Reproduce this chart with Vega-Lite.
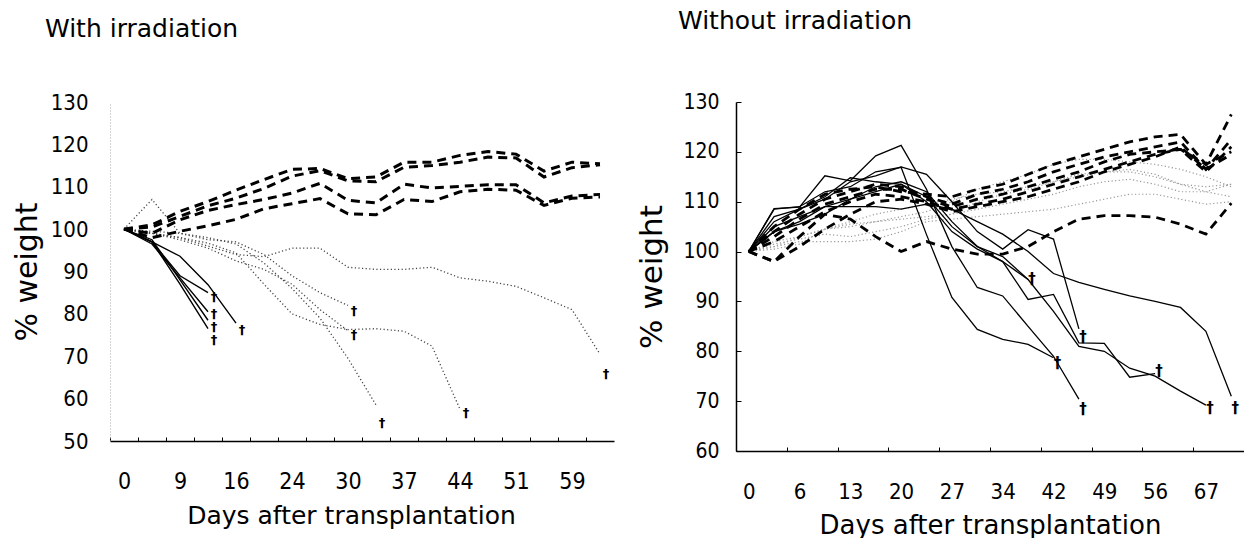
{
  "$schema": "https://vega.github.io/schema/vega-lite/v6.json",
  "padding": {"left": 12, "top": 8, "right": 0, "bottom": 0},
  "bounds": "flush",
  "spacing": 122,
  "config": {
    "view": {"stroke": null},
    "font": "DejaVu Sans",
    "title": {"fontWeight": "normal", "color": "#000", "font": "DejaVu Sans", "fontSize": 25, "anchor": "start", "frame": "group", "baseline": "alphabetic"},
    "axis": {"labelColor": "#000", "titleColor": "#000", "titleFontWeight": "normal", "grid": false, "labelFont": "DejaVu Sans Condensed", "titleFont": "DejaVu Sans"}
  },
  "datasets": {
    "L": [
      {"s":"Da","t":"dash","d":0,"w":100},{"s":"Da","t":"dash","d":5,"w":101},{"s":"Da","t":"dash","d":9,"w":104.2},{"s":"Da","t":"dash","d":13,"w":106.5},{"s":"Da","t":"dash","d":16,"w":109.2},{"s":"Da","t":"dash","d":20,"w":111.7},{"s":"Da","t":"dash","d":24,"w":114.1},{"s":"Da","t":"dash","d":27,"w":114.3},{"s":"Da","t":"dash","d":30,"w":111.9},{"s":"Da","t":"dash","d":34,"w":112.3},{"s":"Da","t":"dash","d":37,"w":115.8},{"s":"Da","t":"dash","d":41,"w":115.8},{"s":"Da","t":"dash","d":44,"w":117.4},{"s":"Da","t":"dash","d":48,"w":118.3},{"s":"Da","t":"dash","d":51,"w":117.7},{"s":"Da","t":"dash","d":55,"w":113.7},{"s":"Da","t":"dash","d":59,"w":115.8},{"s":"Da","t":"dash","d":63,"w":115.4},
      {"s":"Db","t":"dash","d":0,"w":100},{"s":"Db","t":"dash","d":5,"w":100.5},{"s":"Db","t":"dash","d":9,"w":103},{"s":"Db","t":"dash","d":13,"w":105.5},{"s":"Db","t":"dash","d":16,"w":107.3},{"s":"Db","t":"dash","d":20,"w":109.6},{"s":"Db","t":"dash","d":24,"w":112.5},{"s":"Db","t":"dash","d":27,"w":113.8},{"s":"Db","t":"dash","d":30,"w":111.4},{"s":"Db","t":"dash","d":34,"w":111.2},{"s":"Db","t":"dash","d":37,"w":114.6},{"s":"Db","t":"dash","d":41,"w":115},{"s":"Db","t":"dash","d":44,"w":115.8},{"s":"Db","t":"dash","d":48,"w":117},{"s":"Db","t":"dash","d":51,"w":116.8},{"s":"Db","t":"dash","d":55,"w":112.3},{"s":"Db","t":"dash","d":59,"w":114.5},{"s":"Db","t":"dash","d":63,"w":115.2},
      {"s":"Dc","t":"dash","d":0,"w":100},{"s":"Dc","t":"dash","d":5,"w":99},{"s":"Dc","t":"dash","d":9,"w":102.2},{"s":"Dc","t":"dash","d":13,"w":104.4},{"s":"Dc","t":"dash","d":16,"w":105.8},{"s":"Dc","t":"dash","d":20,"w":107},{"s":"Dc","t":"dash","d":24,"w":108.5},{"s":"Dc","t":"dash","d":27,"w":110.8},{"s":"Dc","t":"dash","d":30,"w":106.8},{"s":"Dc","t":"dash","d":34,"w":106.2},{"s":"Dc","t":"dash","d":37,"w":110.6},{"s":"Dc","t":"dash","d":41,"w":109.7},{"s":"Dc","t":"dash","d":44,"w":110.1},{"s":"Dc","t":"dash","d":48,"w":110.5},{"s":"Dc","t":"dash","d":51,"w":110.5},{"s":"Dc","t":"dash","d":55,"w":106.2},{"s":"Dc","t":"dash","d":59,"w":107.8},{"s":"Dc","t":"dash","d":63,"w":108.2},
      {"s":"Dd","t":"dash","d":0,"w":100},{"s":"Dd","t":"dash","d":5,"w":98},{"s":"Dd","t":"dash","d":9,"w":99.5},{"s":"Dd","t":"dash","d":13,"w":100.8},{"s":"Dd","t":"dash","d":16,"w":102.3},{"s":"Dd","t":"dash","d":20,"w":104.8},{"s":"Dd","t":"dash","d":24,"w":106},{"s":"Dd","t":"dash","d":27,"w":107.2},{"s":"Dd","t":"dash","d":30,"w":103.6},{"s":"Dd","t":"dash","d":34,"w":103.4},{"s":"Dd","t":"dash","d":37,"w":107},{"s":"Dd","t":"dash","d":41,"w":106.5},{"s":"Dd","t":"dash","d":44,"w":108.8},{"s":"Dd","t":"dash","d":48,"w":109.4},{"s":"Dd","t":"dash","d":51,"w":109.2},{"s":"Dd","t":"dash","d":55,"w":105.6},{"s":"Dd","t":"dash","d":59,"w":107.3},{"s":"Dd","t":"dash","d":63,"w":107.6},
      {"s":"Sa","t":"solid","d":0,"w":100},{"s":"Sa","t":"solid","d":5,"w":97},{"s":"Sa","t":"solid","d":9,"w":87},{"s":"Sa","t":"solid","d":13,"w":76.5},
      {"s":"Sb","t":"solid","d":0,"w":100},{"s":"Sb","t":"solid","d":5,"w":97.5},{"s":"Sb","t":"solid","d":9,"w":88},{"s":"Sb","t":"solid","d":13,"w":78.5},
      {"s":"Sc","t":"solid","d":0,"w":100},{"s":"Sc","t":"solid","d":5,"w":96.5},{"s":"Sc","t":"solid","d":9,"w":88.5},{"s":"Sc","t":"solid","d":13,"w":80.5},
      {"s":"Sd","t":"solid","d":0,"w":100},{"s":"Sd","t":"solid","d":5,"w":97},{"s":"Sd","t":"solid","d":9,"w":89},{"s":"Sd","t":"solid","d":13,"w":85},
      {"s":"Se","t":"solid","d":0,"w":100},{"s":"Se","t":"solid","d":5,"w":97},{"s":"Se","t":"solid","d":9,"w":93.6},{"s":"Se","t":"solid","d":13,"w":86.9},{"s":"Se","t":"solid","d":16,"w":77.8},
      {"s":"Pa","t":"dot","d":0,"w":100},{"s":"Pa","t":"dot","d":5,"w":99},{"s":"Pa","t":"dot","d":9,"w":98},{"s":"Pa","t":"dot","d":13,"w":96},{"s":"Pa","t":"dot","d":16,"w":94},{"s":"Pa","t":"dot","d":20,"w":93.5},{"s":"Pa","t":"dot","d":24,"w":95.5},{"s":"Pa","t":"dot","d":27,"w":95.5},{"s":"Pa","t":"dot","d":30,"w":91},{"s":"Pa","t":"dot","d":34,"w":90.5},{"s":"Pa","t":"dot","d":37,"w":90.5},{"s":"Pa","t":"dot","d":41,"w":91},{"s":"Pa","t":"dot","d":44,"w":88.5},{"s":"Pa","t":"dot","d":48,"w":87.7},{"s":"Pa","t":"dot","d":51,"w":86.5},{"s":"Pa","t":"dot","d":55,"w":83.8},{"s":"Pa","t":"dot","d":59,"w":81},{"s":"Pa","t":"dot","d":63,"w":70.5},
      {"s":"Pb","t":"dot","d":0,"w":100},{"s":"Pb","t":"dot","d":5,"w":99},{"s":"Pb","t":"dot","d":9,"w":98},{"s":"Pb","t":"dot","d":13,"w":96.7},{"s":"Pb","t":"dot","d":16,"w":94.4},{"s":"Pb","t":"dot","d":20,"w":87},{"s":"Pb","t":"dot","d":24,"w":80},{"s":"Pb","t":"dot","d":27,"w":77.5},{"s":"Pb","t":"dot","d":30,"w":76.3},{"s":"Pb","t":"dot","d":34,"w":76.5},{"s":"Pb","t":"dot","d":37,"w":75.9},{"s":"Pb","t":"dot","d":41,"w":72.4},{"s":"Pb","t":"dot","d":44,"w":57.5},
      {"s":"Pc","t":"dot","d":0,"w":100},{"s":"Pc","t":"dot","d":5,"w":99},{"s":"Pc","t":"dot","d":9,"w":97.5},{"s":"Pc","t":"dot","d":13,"w":95.5},{"s":"Pc","t":"dot","d":16,"w":92.5},{"s":"Pc","t":"dot","d":20,"w":90.5},{"s":"Pc","t":"dot","d":24,"w":87},{"s":"Pc","t":"dot","d":27,"w":81},{"s":"Pc","t":"dot","d":30,"w":76},
      {"s":"Pd","t":"dot","d":0,"w":100},{"s":"Pd","t":"dot","d":5,"w":107},{"s":"Pd","t":"dot","d":9,"w":99},{"s":"Pd","t":"dot","d":13,"w":97.5},{"s":"Pd","t":"dot","d":16,"w":97},{"s":"Pd","t":"dot","d":20,"w":94},{"s":"Pd","t":"dot","d":24,"w":89},{"s":"Pd","t":"dot","d":27,"w":85},{"s":"Pd","t":"dot","d":30,"w":82},
      {"s":"Pe","t":"dot","d":0,"w":100},{"s":"Pe","t":"dot","d":5,"w":99.5},{"s":"Pe","t":"dot","d":9,"w":99},{"s":"Pe","t":"dot","d":13,"w":98},{"s":"Pe","t":"dot","d":16,"w":96.5},{"s":"Pe","t":"dot","d":20,"w":92},{"s":"Pe","t":"dot","d":24,"w":86},{"s":"Pe","t":"dot","d":27,"w":79},{"s":"Pe","t":"dot","d":30,"w":69.5},{"s":"Pe","t":"dot","d":34,"w":58.5},
      {"s":"X1","t":"x","d":13,"w":84},{"s":"X2","t":"x","d":13,"w":79.9},{"s":"X3","t":"x","d":13,"w":76.9},{"s":"X4","t":"x","d":13,"w":73.9},{"s":"X5","t":"x","d":16,"w":76.3},{"s":"X6","t":"x","d":30,"w":80.6},{"s":"X7","t":"x","d":30,"w":75},{"s":"X8","t":"x","d":34,"w":54.3},{"s":"X9","t":"x","d":44,"w":56.5},{"s":"X10","t":"x","d":63,"w":65.8}
    ],
    "R": [
      {"s":"S1","t":"solid","d":0,"w":100},{"s":"S1","t":"solid","d":3,"w":108.5},{"s":"S1","t":"solid","d":6,"w":109},{"s":"S1","t":"solid","d":10,"w":112},{"s":"S1","t":"solid","d":13,"w":113},{"s":"S1","t":"solid","d":17,"w":116},{"s":"S1","t":"solid","d":20,"w":116.9},{"s":"S1","t":"solid","d":24,"w":103.4},{"s":"S1","t":"solid","d":27,"w":90.8},{"s":"S1","t":"solid","d":31,"w":84.4},{"s":"S1","t":"solid","d":34,"w":82.4},{"s":"S1","t":"solid","d":38,"w":81.4},{"s":"S1","t":"solid","d":42,"w":78.7},
      {"s":"S2","t":"solid","d":0,"w":100},{"s":"S2","t":"solid","d":3,"w":108.6},{"s":"S2","t":"solid","d":6,"w":108.9},{"s":"S2","t":"solid","d":10,"w":115.2},{"s":"S2","t":"solid","d":13,"w":114.2},{"s":"S2","t":"solid","d":17,"w":119.2},{"s":"S2","t":"solid","d":20,"w":121.3},{"s":"S2","t":"solid","d":24,"w":112.5},{"s":"S2","t":"solid","d":27,"w":101},{"s":"S2","t":"solid","d":31,"w":92.8},{"s":"S2","t":"solid","d":34,"w":91.1},{"s":"S2","t":"solid","d":38,"w":85},{"s":"S2","t":"solid","d":42,"w":79},{"s":"S2","t":"solid","d":45,"w":70.4},
      {"s":"S3","t":"solid","d":0,"w":100},{"s":"S3","t":"solid","d":3,"w":104},{"s":"S3","t":"solid","d":6,"w":105.5},{"s":"S3","t":"solid","d":10,"w":107.5},{"s":"S3","t":"solid","d":13,"w":110.5},{"s":"S3","t":"solid","d":17,"w":113},{"s":"S3","t":"solid","d":20,"w":114},{"s":"S3","t":"solid","d":24,"w":112},{"s":"S3","t":"solid","d":27,"w":106},{"s":"S3","t":"solid","d":31,"w":101},{"s":"S3","t":"solid","d":34,"w":98},{"s":"S3","t":"solid","d":38,"w":94.4},
      {"s":"S4","t":"solid","d":0,"w":100},{"s":"S4","t":"solid","d":3,"w":107},{"s":"S4","t":"solid","d":6,"w":108.5},{"s":"S4","t":"solid","d":10,"w":110.5},{"s":"S4","t":"solid","d":13,"w":114},{"s":"S4","t":"solid","d":17,"w":115.2},{"s":"S4","t":"solid","d":20,"w":117},{"s":"S4","t":"solid","d":24,"w":115.5},{"s":"S4","t":"solid","d":27,"w":110},{"s":"S4","t":"solid","d":31,"w":104},{"s":"S4","t":"solid","d":34,"w":100.5},{"s":"S4","t":"solid","d":38,"w":104.4},{"s":"S4","t":"solid","d":42,"w":102.5},{"s":"S4","t":"solid","d":45,"w":84.5},
      {"s":"S5","t":"solid","d":0,"w":100},{"s":"S5","t":"solid","d":3,"w":106},{"s":"S5","t":"solid","d":6,"w":108.5},{"s":"S5","t":"solid","d":10,"w":111},{"s":"S5","t":"solid","d":13,"w":114.8},{"s":"S5","t":"solid","d":17,"w":114},{"s":"S5","t":"solid","d":20,"w":113.5},{"s":"S5","t":"solid","d":24,"w":110},{"s":"S5","t":"solid","d":27,"w":104},{"s":"S5","t":"solid","d":31,"w":100.5},{"s":"S5","t":"solid","d":34,"w":98},{"s":"S5","t":"solid","d":38,"w":90.4},{"s":"S5","t":"solid","d":42,"w":91.4},{"s":"S5","t":"solid","d":45,"w":81.7},{"s":"S5","t":"solid","d":49,"w":81.6},{"s":"S5","t":"solid","d":52,"w":74.8},{"s":"S5","t":"solid","d":56,"w":75.5},
      {"s":"S6","t":"solid","d":0,"w":100},{"s":"S6","t":"solid","d":3,"w":105},{"s":"S6","t":"solid","d":6,"w":107},{"s":"S6","t":"solid","d":10,"w":109},{"s":"S6","t":"solid","d":13,"w":110.5},{"s":"S6","t":"solid","d":17,"w":112},{"s":"S6","t":"solid","d":20,"w":113.5},{"s":"S6","t":"solid","d":24,"w":111},{"s":"S6","t":"solid","d":27,"w":105},{"s":"S6","t":"solid","d":31,"w":101},{"s":"S6","t":"solid","d":34,"w":99},{"s":"S6","t":"solid","d":38,"w":94.4},{"s":"S6","t":"solid","d":42,"w":88},{"s":"S6","t":"solid","d":45,"w":81},{"s":"S6","t":"solid","d":49,"w":80},{"s":"S6","t":"solid","d":52,"w":76.6},{"s":"S6","t":"solid","d":56,"w":75},{"s":"S6","t":"solid","d":62,"w":72},{"s":"S6","t":"solid","d":67,"w":69.2},
      {"s":"S7","t":"solid","d":0,"w":100},{"s":"S7","t":"solid","d":3,"w":104},{"s":"S7","t":"solid","d":6,"w":106},{"s":"S7","t":"solid","d":10,"w":109},{"s":"S7","t":"solid","d":13,"w":109},{"s":"S7","t":"solid","d":17,"w":109},{"s":"S7","t":"solid","d":20,"w":108.5},{"s":"S7","t":"solid","d":24,"w":109.5},{"s":"S7","t":"solid","d":27,"w":108.5},{"s":"S7","t":"solid","d":31,"w":106},{"s":"S7","t":"solid","d":34,"w":103.5},{"s":"S7","t":"solid","d":38,"w":100},{"s":"S7","t":"solid","d":42,"w":95.6},{"s":"S7","t":"solid","d":45,"w":93.8},{"s":"S7","t":"solid","d":49,"w":92.4},{"s":"S7","t":"solid","d":52,"w":91.1},{"s":"S7","t":"solid","d":56,"w":90},{"s":"S7","t":"solid","d":62,"w":88.8},{"s":"S7","t":"solid","d":67,"w":84},{"s":"S7","t":"solid","d":70,"w":71},
      {"s":"U1","t":"dash","d":0,"w":100},{"s":"U1","t":"dash","d":3,"w":105},{"s":"U1","t":"dash","d":6,"w":108.5},{"s":"U1","t":"dash","d":10,"w":111.5},{"s":"U1","t":"dash","d":13,"w":112.5},{"s":"U1","t":"dash","d":17,"w":113},{"s":"U1","t":"dash","d":20,"w":112},{"s":"U1","t":"dash","d":24,"w":111.5},{"s":"U1","t":"dash","d":27,"w":111},{"s":"U1","t":"dash","d":31,"w":112.5},{"s":"U1","t":"dash","d":34,"w":113.5},{"s":"U1","t":"dash","d":38,"w":115.5},{"s":"U1","t":"dash","d":42,"w":117.5},{"s":"U1","t":"dash","d":45,"w":119},{"s":"U1","t":"dash","d":49,"w":120.5},{"s":"U1","t":"dash","d":52,"w":122},{"s":"U1","t":"dash","d":56,"w":123},{"s":"U1","t":"dash","d":62,"w":123.5},{"s":"U1","t":"dash","d":67,"w":117.5},{"s":"U1","t":"dash","d":70,"w":127.5},
      {"s":"U2","t":"dash","d":0,"w":100},{"s":"U2","t":"dash","d":3,"w":104},{"s":"U2","t":"dash","d":6,"w":107.5},{"s":"U2","t":"dash","d":10,"w":110.5},{"s":"U2","t":"dash","d":13,"w":112},{"s":"U2","t":"dash","d":17,"w":113.5},{"s":"U2","t":"dash","d":20,"w":113},{"s":"U2","t":"dash","d":24,"w":111},{"s":"U2","t":"dash","d":27,"w":109.5},{"s":"U2","t":"dash","d":31,"w":111.5},{"s":"U2","t":"dash","d":34,"w":112.5},{"s":"U2","t":"dash","d":38,"w":114},{"s":"U2","t":"dash","d":42,"w":116},{"s":"U2","t":"dash","d":45,"w":117.5},{"s":"U2","t":"dash","d":49,"w":119},{"s":"U2","t":"dash","d":52,"w":120},{"s":"U2","t":"dash","d":56,"w":121},{"s":"U2","t":"dash","d":62,"w":122},{"s":"U2","t":"dash","d":67,"w":116.5},{"s":"U2","t":"dash","d":70,"w":122.5},
      {"s":"U3","t":"dash","d":0,"w":100},{"s":"U3","t":"dash","d":3,"w":103},{"s":"U3","t":"dash","d":6,"w":106.5},{"s":"U3","t":"dash","d":10,"w":109.5},{"s":"U3","t":"dash","d":13,"w":111},{"s":"U3","t":"dash","d":17,"w":112.5},{"s":"U3","t":"dash","d":20,"w":112.5},{"s":"U3","t":"dash","d":24,"w":110.5},{"s":"U3","t":"dash","d":27,"w":109},{"s":"U3","t":"dash","d":31,"w":110.5},{"s":"U3","t":"dash","d":34,"w":111.5},{"s":"U3","t":"dash","d":38,"w":113},{"s":"U3","t":"dash","d":42,"w":114.5},{"s":"U3","t":"dash","d":45,"w":116},{"s":"U3","t":"dash","d":49,"w":118},{"s":"U3","t":"dash","d":52,"w":119.5},{"s":"U3","t":"dash","d":56,"w":120},{"s":"U3","t":"dash","d":62,"w":120.5},{"s":"U3","t":"dash","d":67,"w":116},{"s":"U3","t":"dash","d":70,"w":121},
      {"s":"U4","t":"dash","d":0,"w":100},{"s":"U4","t":"dash","d":3,"w":102},{"s":"U4","t":"dash","d":6,"w":105},{"s":"U4","t":"dash","d":10,"w":108},{"s":"U4","t":"dash","d":13,"w":110},{"s":"U4","t":"dash","d":17,"w":111.5},{"s":"U4","t":"dash","d":20,"w":111},{"s":"U4","t":"dash","d":24,"w":110},{"s":"U4","t":"dash","d":27,"w":108.5},{"s":"U4","t":"dash","d":31,"w":109.5},{"s":"U4","t":"dash","d":34,"w":110.5},{"s":"U4","t":"dash","d":38,"w":112},{"s":"U4","t":"dash","d":42,"w":113.5},{"s":"U4","t":"dash","d":45,"w":115},{"s":"U4","t":"dash","d":49,"w":116.5},{"s":"U4","t":"dash","d":52,"w":118},{"s":"U4","t":"dash","d":56,"w":119.5},{"s":"U4","t":"dash","d":62,"w":120.5},{"s":"U4","t":"dash","d":67,"w":117.5},{"s":"U4","t":"dash","d":70,"w":120},
      {"s":"U5","t":"dash","d":0,"w":100},{"s":"U5","t":"dash","d":3,"w":98},{"s":"U5","t":"dash","d":6,"w":101},{"s":"U5","t":"dash","d":10,"w":104.5},{"s":"U5","t":"dash","d":13,"w":107.5},{"s":"U5","t":"dash","d":17,"w":110},{"s":"U5","t":"dash","d":20,"w":110.5},{"s":"U5","t":"dash","d":24,"w":109.5},{"s":"U5","t":"dash","d":27,"w":108},{"s":"U5","t":"dash","d":31,"w":109},{"s":"U5","t":"dash","d":34,"w":110},{"s":"U5","t":"dash","d":38,"w":111},{"s":"U5","t":"dash","d":42,"w":112.5},{"s":"U5","t":"dash","d":45,"w":114},{"s":"U5","t":"dash","d":49,"w":116},{"s":"U5","t":"dash","d":52,"w":117.5},{"s":"U5","t":"dash","d":56,"w":119},{"s":"U5","t":"dash","d":62,"w":121},{"s":"U5","t":"dash","d":67,"w":116.5},{"s":"U5","t":"dash","d":70,"w":119.5},
      {"s":"U6","t":"dash","d":0,"w":100},{"s":"U6","t":"dash","d":3,"w":98},{"s":"U6","t":"dash","d":6,"w":103},{"s":"U6","t":"dash","d":10,"w":107.5},{"s":"U6","t":"dash","d":13,"w":106.5},{"s":"U6","t":"dash","d":17,"w":103},{"s":"U6","t":"dash","d":20,"w":100},{"s":"U6","t":"dash","d":24,"w":102},{"s":"U6","t":"dash","d":27,"w":100.5},{"s":"U6","t":"dash","d":31,"w":99.5},{"s":"U6","t":"dash","d":34,"w":99.5},{"s":"U6","t":"dash","d":38,"w":101},{"s":"U6","t":"dash","d":42,"w":104},{"s":"U6","t":"dash","d":45,"w":106.5},{"s":"U6","t":"dash","d":49,"w":107.2},{"s":"U6","t":"dash","d":52,"w":107.2},{"s":"U6","t":"dash","d":56,"w":106.9},{"s":"U6","t":"dash","d":62,"w":105.5},{"s":"U6","t":"dash","d":67,"w":103.5},{"s":"U6","t":"dash","d":70,"w":109.7},
      {"s":"P1","t":"dot","d":0,"w":100},{"s":"P1","t":"dot","d":3,"w":101.5},{"s":"P1","t":"dot","d":6,"w":102.5},{"s":"P1","t":"dot","d":10,"w":103.5},{"s":"P1","t":"dot","d":13,"w":103},{"s":"P1","t":"dot","d":17,"w":104},{"s":"P1","t":"dot","d":20,"w":105},{"s":"P1","t":"dot","d":24,"w":106.5},{"s":"P1","t":"dot","d":27,"w":107.5},{"s":"P1","t":"dot","d":31,"w":110},{"s":"P1","t":"dot","d":34,"w":111.5},{"s":"P1","t":"dot","d":38,"w":112.5},{"s":"P1","t":"dot","d":42,"w":114},{"s":"P1","t":"dot","d":45,"w":115},{"s":"P1","t":"dot","d":49,"w":116},{"s":"P1","t":"dot","d":52,"w":116.5},{"s":"P1","t":"dot","d":56,"w":115.5},{"s":"P1","t":"dot","d":62,"w":113.5},{"s":"P1","t":"dot","d":67,"w":112},{"s":"P1","t":"dot","d":70,"w":113.5},
      {"s":"P2","t":"dot","d":0,"w":100},{"s":"P2","t":"dot","d":3,"w":102},{"s":"P2","t":"dot","d":6,"w":103},{"s":"P2","t":"dot","d":10,"w":104.5},{"s":"P2","t":"dot","d":13,"w":105.5},{"s":"P2","t":"dot","d":17,"w":106},{"s":"P2","t":"dot","d":20,"w":106.5},{"s":"P2","t":"dot","d":24,"w":107},{"s":"P2","t":"dot","d":27,"w":107.5},{"s":"P2","t":"dot","d":31,"w":108.5},{"s":"P2","t":"dot","d":34,"w":109.5},{"s":"P2","t":"dot","d":38,"w":110.5},{"s":"P2","t":"dot","d":42,"w":111.5},{"s":"P2","t":"dot","d":45,"w":113},{"s":"P2","t":"dot","d":49,"w":114},{"s":"P2","t":"dot","d":52,"w":114.5},{"s":"P2","t":"dot","d":56,"w":113.5},{"s":"P2","t":"dot","d":62,"w":112},{"s":"P2","t":"dot","d":67,"w":112},{"s":"P2","t":"dot","d":70,"w":111},
      {"s":"P3","t":"dot","d":0,"w":100},{"s":"P3","t":"dot","d":3,"w":101},{"s":"P3","t":"dot","d":6,"w":102},{"s":"P3","t":"dot","d":10,"w":102},{"s":"P3","t":"dot","d":13,"w":102},{"s":"P3","t":"dot","d":17,"w":102.5},{"s":"P3","t":"dot","d":20,"w":104},{"s":"P3","t":"dot","d":24,"w":106},{"s":"P3","t":"dot","d":27,"w":106.5},{"s":"P3","t":"dot","d":31,"w":107},{"s":"P3","t":"dot","d":34,"w":107.5},{"s":"P3","t":"dot","d":38,"w":108},{"s":"P3","t":"dot","d":42,"w":108.5},{"s":"P3","t":"dot","d":45,"w":109.5},{"s":"P3","t":"dot","d":49,"w":110.5},{"s":"P3","t":"dot","d":52,"w":111.5},{"s":"P3","t":"dot","d":56,"w":111.5},{"s":"P3","t":"dot","d":62,"w":110.5},{"s":"P3","t":"dot","d":67,"w":109.5},{"s":"P3","t":"dot","d":70,"w":110},
      {"s":"P4","t":"dot","d":0,"w":100},{"s":"P4","t":"dot","d":3,"w":100.5},{"s":"P4","t":"dot","d":6,"w":101.5},{"s":"P4","t":"dot","d":10,"w":104.5},{"s":"P4","t":"dot","d":13,"w":105},{"s":"P4","t":"dot","d":17,"w":106},{"s":"P4","t":"dot","d":20,"w":107},{"s":"P4","t":"dot","d":24,"w":108},{"s":"P4","t":"dot","d":27,"w":110},{"s":"P4","t":"dot","d":31,"w":112.5},{"s":"P4","t":"dot","d":34,"w":114},{"s":"P4","t":"dot","d":38,"w":115.5},{"s":"P4","t":"dot","d":42,"w":117.5},{"s":"P4","t":"dot","d":45,"w":118.5},{"s":"P4","t":"dot","d":49,"w":118.5},{"s":"P4","t":"dot","d":52,"w":118},{"s":"P4","t":"dot","d":56,"w":117.5},{"s":"P4","t":"dot","d":62,"w":116.5},{"s":"P4","t":"dot","d":67,"w":115},{"s":"P4","t":"dot","d":70,"w":113},
      {"s":"P5","t":"dot","d":0,"w":100},{"s":"P5","t":"dot","d":3,"w":101},{"s":"P5","t":"dot","d":6,"w":103},{"s":"P5","t":"dot","d":10,"w":104.5},{"s":"P5","t":"dot","d":13,"w":106},{"s":"P5","t":"dot","d":17,"w":107.5},{"s":"P5","t":"dot","d":20,"w":108.5},{"s":"P5","t":"dot","d":24,"w":109.5},{"s":"P5","t":"dot","d":27,"w":110.5},{"s":"P5","t":"dot","d":31,"w":111.5},{"s":"P5","t":"dot","d":34,"w":112},{"s":"P5","t":"dot","d":38,"w":113},{"s":"P5","t":"dot","d":42,"w":114},{"s":"P5","t":"dot","d":45,"w":115.5},{"s":"P5","t":"dot","d":49,"w":116},{"s":"P5","t":"dot","d":52,"w":116},{"s":"P5","t":"dot","d":56,"w":115},{"s":"P5","t":"dot","d":62,"w":113.5},{"s":"P5","t":"dot","d":67,"w":113},{"s":"P5","t":"dot","d":70,"w":113.5},
      {"s":"X1","t":"x","d":38,"w":94.4},{"s":"X2","t":"x","d":42,"w":77.7},{"s":"X3","t":"x","d":45,"w":82.9},{"s":"X4","t":"x","d":45,"w":68.4},{"s":"X5","t":"x","d":56,"w":76},{"s":"X6","t":"x","d":67,"w":68.7},{"s":"X7","t":"x","d":70,"w":68.7}
    ]
  },
  "hconcat": [
    {
      "width": 504,
      "height": 339,
      "title": {"text": "With irradiation", "dx": -65, "offset": 49.5},
      "data": {"name": "L"},
      "encoding": {
        "x": {"field": "d", "type": "ordinal", "bandPosition": 0.5,
          "scale": {"type": "band", "paddingInner": 0, "paddingOuter": 0},
          "axis": {"title": "Days after transplantation", "titleFontSize": 25, "titlePadding": 10, "titleX": 241, "labelAngle": 0, "labelFontSize": 23, "labelPadding": 33, "tickOffset": -14, "labelOffset": 14, "tickSize": -4, "tickColor": "#000", "domainColor": "#000", "domainWidth": 1.5,
            "labelExpr": "indexof([0,9,16,24,30,37,44,51,59], datum.value) >= 0 ? datum.label : ''"}},
        "y": {"field": "w", "type": "quantitative", "scale": {"domain": [50, 130], "nice": false, "zero": false},
          "axis": {"title": "% weight", "titleFontSize": 30, "titlePadding": 8, "values": [50,60,70,80,90,100,110,120,130], "labelFontSize": 22, "labelPadding": 22, "labelFlush": false, "ticks": false, "domainColor": "#aaa", "domainDash": [1,2]}}
      },
      "layer": [
        {"transform": [{"filter": "datum.t == 'dot'"}], "mark": {"type": "line", "stroke": "#444", "strokeWidth": 1.3, "strokeDash": [1.2, 2.4]}, "encoding": {"detail": {"field": "s"}}},
        {"transform": [{"filter": "datum.t == 'solid'"}], "mark": {"type": "line", "stroke": "#000", "strokeWidth": 1.4}, "encoding": {"detail": {"field": "s"}}},
        {"transform": [{"filter": "datum.t == 'dash'"}], "mark": {"type": "line", "stroke": "#000", "strokeWidth": 3, "strokeDash": [9, 6]}, "encoding": {"detail": {"field": "s"}}},
        {"transform": [{"filter": "datum.t == 'x'"}], "mark": {"type": "text", "text": "†", "fontSize": 13, "fontWeight": "bold", "dx": 6, "color": "#000", "font": "DejaVu Sans"}}
      ]
    },
    {
      "width": 508,
      "height": 349,
      "title": {"text": "Without irradiation", "dx": -58, "offset": 57.5},
      "data": {"name": "R"},
      "encoding": {
        "x": {"field": "d", "type": "ordinal", "bandPosition": 0.5,
          "scale": {"type": "band", "paddingInner": 0, "paddingOuter": 0},
          "axis": {"title": "Days after transplantation", "titleFontSize": 26, "titlePadding": 10, "labelAngle": 0, "labelFontSize": 22, "labelPadding": 34, "tickOffset": -12.7, "labelOffset": 12.7, "tickSize": -4, "tickColor": "#000", "domainColor": "#000", "domainWidth": 1.5,
            "values": [0,6,13,20,27,34,42,49,56,67]}},
        "y": {"field": "w", "type": "quantitative", "scale": {"domain": [60, 130], "nice": false, "zero": false},
          "axis": {"title": "% weight", "titleFontSize": 31, "titlePadding": 14, "values": [60,70,80,90,100,110,120,130], "labelFontSize": 21, "labelPadding": 22, "labelFlush": false, "tickSize": -5, "tickColor": "#000", "domainColor": "#000", "domainWidth": 1.5}}
      },
      "layer": [
        {"transform": [{"filter": "datum.t == 'dot'"}], "mark": {"type": "line", "stroke": "#999", "strokeWidth": 1.2, "strokeDash": [1.2, 2.4]}, "encoding": {"detail": {"field": "s"}}},
        {"transform": [{"filter": "datum.t == 'dash'"}], "mark": {"type": "line", "stroke": "#000", "strokeWidth": 2.8, "strokeDash": [9, 6]}, "encoding": {"detail": {"field": "s"}}},
        {"transform": [{"filter": "datum.t == 'solid'"}], "mark": {"type": "line", "stroke": "#000", "strokeWidth": 1.3}, "encoding": {"detail": {"field": "s"}}},
        {"transform": [{"filter": "datum.t == 'x'"}], "mark": {"type": "text", "text": "†", "fontSize": 15, "fontWeight": "bold", "dx": 4, "color": "#000", "font": "DejaVu Sans"}}
      ]
    }
  ]
}
